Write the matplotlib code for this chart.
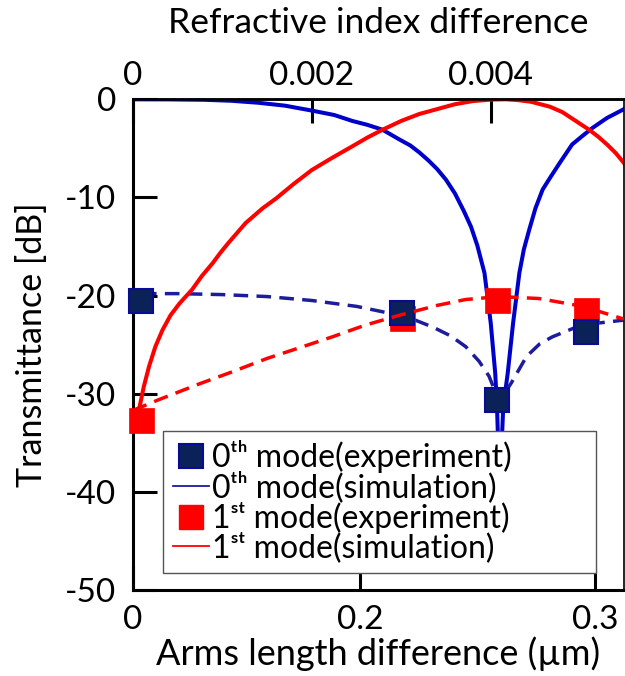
import matplotlib
matplotlib.use('Agg')
import matplotlib.pyplot as plt
from matplotlib.lines import Line2D

plt.rcParams['font.family'] = ['Lato', 'DejaVu Sans']
plt.rcParams['axes.unicode_minus'] = False

# x values are refractive index difference (top axis)
sim0_x = [0.0, 0.0004, 0.0008, 0.0011, 0.0014, 0.0017, 0.002, 0.00225, 0.00245,
          0.00262, 0.00279, 0.00298, 0.0031, 0.0032, 0.0033, 0.0034, 0.0035,
          0.0036, 0.0037, 0.00378, 0.00385, 0.00393, 0.004, 0.00405, 0.00407,
          0.0041, 0.00414, 0.00419, 0.00425, 0.00432, 0.00437, 0.00443, 0.0045,
          0.00458, 0.00467, 0.00477, 0.00491, 0.00503, 0.00514, 0.0053, 0.00549]
sim0_db = [0.0, -0.01, -0.05, -0.15, -0.35, -0.65, -1.15, -1.6, -2.2,
           -2.6, -3.1, -4.1, -4.7, -5.4, -6.2, -7.1, -8.2,
           -9.6, -11.4, -13.0, -14.9, -17.7, -22.8, -27.9, -31.3,
           -40.0, -31.3, -27.9, -22.8, -17.7, -15.3, -13.3, -11.1,
           -9.2, -7.9, -6.5, -4.6, -3.7, -2.9, -1.9, -1.0]

sim1_x = [0.00004, 0.00007, 0.00012, 0.00018, 0.00025, 0.00033, 0.00042,
          0.00052, 0.00066, 0.00077, 0.00089, 0.00098, 0.00107, 0.00126,
          0.00145, 0.0016, 0.0018, 0.002, 0.00222, 0.00245, 0.00262, 0.00279,
          0.003, 0.0032, 0.0034, 0.0036, 0.0038, 0.004, 0.00417, 0.0043,
          0.00445, 0.00466, 0.0048, 0.00495, 0.0051, 0.0052, 0.0053, 0.0054,
          0.00549]
sim1_db = [-32.0, -31.5, -29.3, -27.2, -25.2, -23.5, -22.0,
           -20.8, -19.4, -18.0, -16.7, -15.6, -14.6, -12.6,
           -11.1, -10.1, -8.6, -7.2, -6.0, -4.8, -3.9, -3.1,
           -2.2, -1.5, -1.0, -0.5, -0.18, -0.03, 0.0, -0.08,
           -0.25, -0.75, -1.3, -2.2, -3.1, -3.8, -4.6, -5.5,
           -6.5]

fit0_x = [0.0001, 0.0005, 0.001, 0.0015, 0.002, 0.0025, 0.00287, 0.0031,
          0.00335, 0.00355, 0.00372, 0.00387, 0.00398, 0.00406, 0.0041,
          0.00415, 0.00423, 0.0044, 0.00455, 0.00469, 0.00496, 0.0052, 0.00549]
fit0_db = [-19.8, -19.8, -19.9, -20.1, -20.5, -21.1, -21.8, -22.3,
           -23.2, -24.1, -25.2, -26.7, -28.2, -30.0, -31.0,
           -30.0, -28.9, -26.2, -24.9, -24.2, -23.2, -22.8, -22.5]

fit1_x = [0.0, 0.00029, 0.00074, 0.0011, 0.0015, 0.0019, 0.00223, 0.0026,
          0.00298, 0.0034, 0.00372, 0.0041, 0.00454, 0.00503, 0.00549]
fit1_db = [-31.7, -30.6, -29.0, -27.8, -26.4, -25.2, -24.2, -23.0,
           -22.0, -21.0, -20.4, -20.1, -20.3, -21.1, -22.4]

exp_x = [0.000086, 0.003006, 0.00407, 0.005067]
exp0_db = [-20.6, -21.8, -30.6, -23.7]
exp1_db = [-32.7, -22.3, -20.4, -21.5]

top_ticks = [0, 0.002, 0.004]
top_labels = ['0', '0.002', '0.004']
bottom_ticks = [0, 0.00254, 0.00517]
bottom_labels = ['0', '0.2', '0.3']

legend_labels = [
    '0ᵗʰ mode(experiment)',
    '0ᵗʰ mode(simulation)',
    '1ˢᵗ mode(experiment)',
    '1ˢᵗ mode(simulation)',
]

BLUE = '#0000cc'
NAVY_LINE = '#1c1c9c'
NAVY_FILL = '#0a2258'
NAVY_EDGE = '#0a0a9a'
RED = '#ff0000'

fig = plt.figure(figsize=(6.25, 6.76), dpi=100)
ax = fig.add_axes([0.2128, 0.1272, 0.7856, 0.7259])

ax.plot(sim0_x, sim0_db, color=BLUE, lw=2.9, zorder=2)
ax.plot(fit0_x, fit0_db, color=NAVY_LINE, lw=2.5, dashes=(4.2, 2.4), zorder=2)
ax.plot(sim1_x, sim1_db, color=RED, lw=2.9, zorder=2)
ax.plot(exp_x, exp1_db, 's', ms=18, color=RED, mec=RED, mew=0.5,
        zorder=3, clip_on=False)
ax.plot(exp_x, exp0_db, 's', ms=17, color=NAVY_FILL, mec=NAVY_EDGE, mew=1.5,
        zorder=4, clip_on=False)
ax.plot(fit1_x, fit1_db, color=RED, lw=2.5, dashes=(4.2, 2.4), zorder=5)

ax.set_xlim(0, 0.00549)
ax.set_ylim(-50, 0)
ax.set_yticks([0, -10, -20, -30, -40, -50])
ax.set_xticks(bottom_ticks)
ax.set_xticklabels(bottom_labels)
ax.tick_params(axis='both', direction='in', length=17, width=2.2,
               labelsize=24)
ax.tick_params(axis='y', pad=12)
ax.tick_params(axis='x', pad=11)
for side in ['left', 'bottom']:
    ax.spines[side].set_linewidth(2.2)
ax.spines['top'].set_linewidth(1.8)
ax.spines['right'].set_linewidth(1.2)

top = ax.secondary_xaxis('top')
top.set_xticks(top_ticks)
top.set_xticklabels(top_labels)
top.tick_params(direction='in', length=17, width=2.2, labelsize=24, pad=6)
top.spines['top'].set_linewidth(1.8)
top.set_xlabel('Refractive index difference', fontsize=25.5, labelpad=20)

ax.set_xlabel('Arms length difference (µm)', fontsize=26, labelpad=1)
ax.set_ylabel('Transmittance [dB]', fontsize=24.5, labelpad=12)

handles = [
    Line2D([], [], ls='none', marker='s', ms=17, color=NAVY_FILL,
           mec=NAVY_EDGE, mew=1.5),
    Line2D([], [], color=NAVY_LINE, lw=1.3),
    Line2D([], [], ls='none', marker='s', ms=17, color=RED, mec=RED),
    Line2D([], [], color=RED, lw=1.3),
]
leg = ax.legend(handles, legend_labels, loc='lower left',
                bbox_to_anchor=(0.061, 0.035, 0.882, 0.29), mode='expand',
                fontsize=23, frameon=True, fancybox=False, framealpha=1,
                edgecolor='#555555', handlelength=1.15, handletextpad=0.1,
                labelspacing=-0.05, borderpad=0.3, borderaxespad=0)
leg.get_frame().set_linewidth(1.0)
leg.set_zorder(10)

fig.savefig('out.png', dpi=100)
